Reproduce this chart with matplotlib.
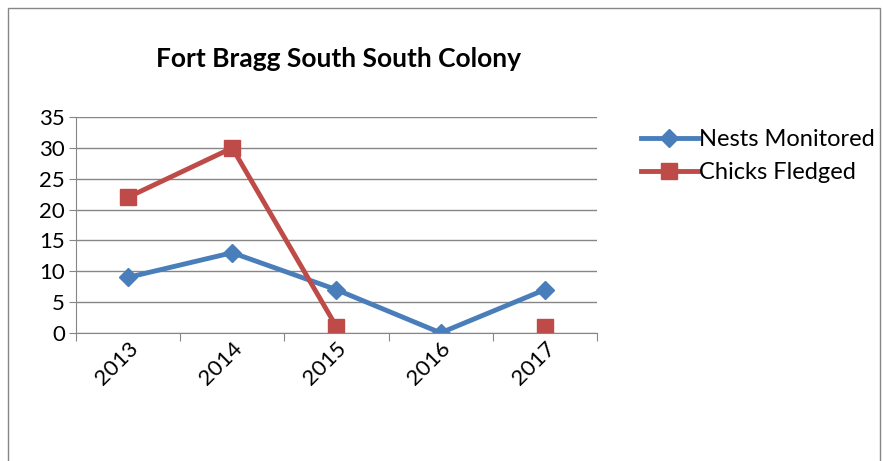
import numpy as np
import matplotlib.pyplot as plt
from matplotlib.patches import Rectangle

years = ['2013', '2014', '2015', '2016', '2017']
nests = [9, 13, 7, 0, 7]
chicks = [22, 30, 1, np.nan, 1]

plt.rcParams['font.family'] = ['Lato', 'DejaVu Sans']

fig = plt.figure(figsize=(8.83, 4.61), dpi=100)
fig.patches.append(Rectangle((0.009, -0.01), 0.988, 0.993, transform=fig.transFigure,
                             fill=False, edgecolor='#868686', lw=1.0))
ax = fig.add_axes([0.086, 0.278, 0.590, 0.468])

x = np.arange(len(years))
ax.plot(x, nests, color='#4a7ebb', lw=3.5, marker='D', ms=9, label='Nests Monitored')
ax.plot(x, chicks, color='#be4b48', lw=3.5, marker='s', ms=12, label='Chicks Fledged')

ax.set_xlim(-0.5, 4.5)
ax.set_ylim(0, 35)
ax.set_yticks(range(0, 36, 5))
ax.tick_params(axis='y', labelsize=16, length=5, color='#868686', pad=3)
ax.set_xticks(np.arange(-0.5, 5, 1))
ax.set_xticklabels([])
ax.set_xticks(x, minor=True)
ax.set_xticklabels(years, minor=True, rotation=45, fontsize=16)
ax.tick_params(axis='x', which='major', length=6, color='#868686')
ax.tick_params(axis='x', which='minor', length=0, pad=4)
for lab in ax.get_xticklabels(minor=True):
    lab.set_va('top')
    lab.set_rotation_mode('anchor')
    lab.set_ha('right')
ax.grid(axis='y', color='#868686', lw=1)
ax.set_axisbelow(True)
for s in ['top', 'right']:
    ax.spines[s].set_visible(False)
ax.spines['left'].set_color('#868686')
ax.spines['bottom'].set_color('#868686')

fig.text(0.383, 0.872, 'Fort Bragg South South Colony', ha='center', va='center',
         fontsize=19, fontweight='bold')

fig.legend(loc='upper left', bbox_to_anchor=(0.702, 0.766), frameon=False, fontsize=17,
           handlelength=2.4, handletextpad=0.05, labelspacing=0.5)

fig.savefig('out.png', dpi=100)
